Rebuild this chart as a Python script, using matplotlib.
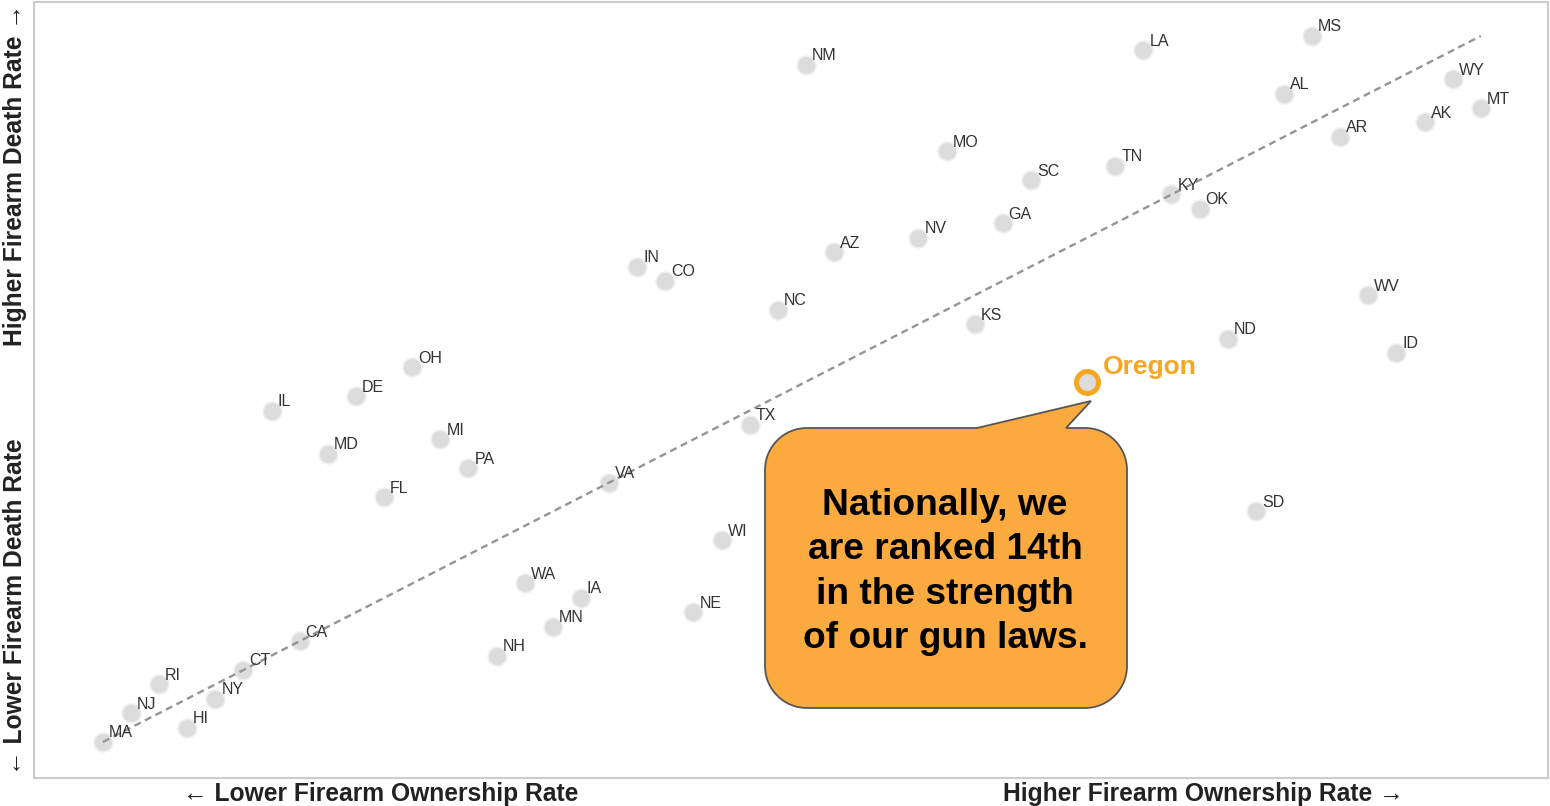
import matplotlib
matplotlib.use("Agg")
import matplotlib.pyplot as plt
from matplotlib.path import Path
from matplotlib.patches import PathPatch

plt.rcParams['font.family'] = ['Liberation Sans', 'DejaVu Sans']

# State ranks: ownership rank (x, 1 = lowest) and firearm death-rate rank (y, 1 = lowest)
states = ["MA", "NJ", "RI", "HI", "NY", "CT", "IL", "CA", "MD", "DE",
          "FL", "OH", "MI", "PA", "NH", "WA", "MN", "IA", "VA", "IN",
          "CO", "NE", "WI", "TX", "NC", "NM", "AZ", "ME", "VT", "NV",
          "MO", "KS", "GA", "SC", "UT", "OR", "TN", "LA", "KY", "OK",
          "ND", "SD", "AL", "MS", "AR", "WV", "ID", "AK", "WY", "MT"]
ownership_rank = [1, 2, 3, 4, 5, 6, 7, 8, 9, 10,
                  11, 12, 13, 14, 15, 16, 17, 18, 19, 20,
                  21, 22, 23, 24, 25, 26, 27, 28, 29, 30,
                  31, 32, 33, 34, 35, 36, 37, 38, 39, 40,
                  41, 42, 43, 44, 45, 46, 47, 48, 49, 50]
death_rank = [1, 3, 5, 2, 4, 6, 24, 8, 21, 25,
              18, 27, 22, 20, 7, 12, 9, 11, 19, 34,
              33, 10, 15, 23, 31, 48, 35, 14, 13, 36,
              42, 30, 37, 40, 16, 26, 41, 49, 39, 38,
              29, 17, 46, 50, 43, 32, 28, 44, 47, 45]
# states whose points sit behind the callout bubble (labels not visible)
hidden_by_callout = ["ME", "VT", "UT"]
highlight = "OR"
highlight_label = "Oregon"
trend = [1, 50]
callout_text = "Nationally, we\nare ranked 14th\nin the strength\nof our gun laws."

W, H = 1550, 806
fig = plt.figure(figsize=(W / 100, H / 100), dpi=100)

def fx(x):
    return x / W

def fy(y):
    return 1 - y / H

ax = fig.add_axes([fx(34), fy(778), fx(1548) - fx(34), fy(2) - fy(778)])
ax.set_xlim(-1.45, 52.39)
ax.set_ylim(-1.5, 52.36)
ax.set_xticks([])
ax.set_yticks([])
for s in ax.spines.values():
    s.set_color('#cccccc')
    s.set_linewidth(1.5)

ax.plot(trend, trend, color='#959595', lw=1.7, ls=(0, (3, 2)), zorder=3)

xs = [x for x, s in zip(ownership_rank, states) if s != highlight]
ys = [y for y, s in zip(death_rank, states) if s != highlight]
ax.scatter(xs, ys, s=180, color='#dcdcdc', edgecolors='#efefef', linewidths=1.2, zorder=2)
for s, x, y in zip(states, ownership_rank, death_rank):
    if s == highlight or s in hidden_by_callout:
        continue
    ax.annotate(s, (x, y), xytext=(4.3, 6.5), textcoords='offset points',
                ha='left', va='center', fontsize=11.5, color='#333333', zorder=4)

i = states.index(highlight)
ox, oy = ownership_rank[i], death_rank[i]
ax.scatter([ox], [oy], s=250, color='#dcdcdc', edgecolors='#f5a623', linewidths=3.6, zorder=5)
ax.annotate(highlight_label, (ox, oy), xytext=(11.5, 10.5), textcoords='offset points',
            ha='left', va='center', fontsize=19, fontweight='bold', color='#f5a623', zorder=5)

# Callout bubble (pixel geometry)
L, R, T, B, r = 765, 1127, 428, 708, 42
k = 0.5523 * r
pts = [
    (L + r, T),
    (977, T), (1091, 401), (1066, T),
    (R - r, T),
    (R - r + k, T), (R, T + r - k), (R, T + r),
    (R, B - r),
    (R, B - r + k), (R - r + k, B), (R - r, B),
    (L + r, B),
    (L + r - k, B), (L, B - r + k), (L, B - r),
    (L, T + r),
    (L, T + r - k), (L + r - k, T), (L + r, T),
    (L + r, T),
]
codes = ([Path.MOVETO, Path.LINETO, Path.LINETO, Path.LINETO, Path.LINETO]
         + [Path.CURVE4] * 3 + [Path.LINETO]
         + [Path.CURVE4] * 3 + [Path.LINETO]
         + [Path.CURVE4] * 3 + [Path.LINETO]
         + [Path.CURVE4] * 3 + [Path.CLOSEPOLY])
verts = [(x / 100, (H - y) / 100) for x, y in pts]
bubble = PathPatch(Path(verts, codes), facecolor='#fbaa40', edgecolor='#555555',
                   lw=1.3, transform=fig.dpi_scale_trans, zorder=10)
fig.patches.append(bubble)

fig.text(fx(945), fy(572), callout_text, ha='center', va='center', multialignment='center',
         fontsize=26.7, fontweight='bold', color='#000000', linespacing=1.34, zorder=11)

lab_kw = dict(fontsize=17.7, fontweight='bold', color='#222222')
fig.text(fx(381), fy(794), "\u2190 Lower Firearm Ownership Rate", ha='center', va='center', **lab_kw)
fig.text(fx(1203), fy(794), "Higher Firearm Ownership Rate \u2192", ha='center', va='center', **lab_kw)
fig.text(fx(15), fy(607), "\u2190 Lower Firearm Death Rate", ha='center', va='center', rotation=90, **lab_kw)
fig.text(fx(15), fy(175), "Higher Firearm Death Rate \u2192", ha='center', va='center', rotation=90, **lab_kw)

fig.savefig("out.png", dpi=100)
